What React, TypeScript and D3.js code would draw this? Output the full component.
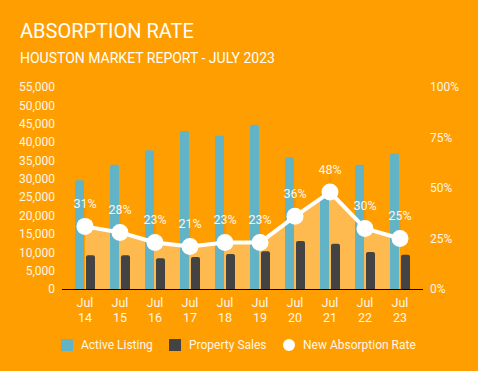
import React from "react";
import * as d3 from "d3";

const months = ["Jul 14", "Jul 15", "Jul 16", "Jul 17", "Jul 18", "Jul 19", "Jul 20", "Jul 21", "Jul 22", "Jul 23"];
const activeListing = [29600, 33800, 37800, 43000, 41700, 44700, 35900, 25600, 33800, 36900];
const propertySales = [9200, 9200, 8400, 8700, 9500, 10300, 13100, 12300, 10100, 9300];
const absorptionRate = [31, 28, 23, 21, 23, 23, 36, 48, 30, 25];
const leftTicks = [0, 5000, 10000, 15000, 20000, 25000, 30000, 35000, 40000, 45000, 50000, 55000];
const rightTicks = [0, 25, 50, 75, 100];

const W = 478, H = 371;
const BG = "#FF9E00";
const TEAL = "#63B3C7";
const DARK = "#434343";
const AREA = "#FFBA4F";
const TXT = "#FFF6E8";
const FONT = "Roboto, 'Noto Sans', sans-serif";

export default function App() {
  const x = d3.scaleBand<string>().domain(months).range([62, 423]).paddingInner(0).paddingOuter(0.157);
  const yL = d3.scaleLinear().domain([0, 55000]).range([289, 87]);
  const yR = d3.scaleLinear().domain([0, 100]).range([289, 87]);
  const cx = (m: string) => (x(m) as number) + x.bandwidth() / 2;
  const barW = 9;

  const barPath = (x0: number, y0: number, w: number, h: number, r: number) => {
    const rr = Math.min(r, h);
    return `M${x0},${y0 + h} V${y0 + rr} Q${x0},${y0} ${x0 + rr},${y0} H${x0 + w - rr} Q${x0 + w},${y0} ${x0 + w},${y0 + rr} V${y0 + h} Z`;
  };

  const pts = months.map((m, i) => [cx(m), yR(absorptionRate[i])] as [number, number]);
  const area = d3.area<[number, number]>().x(d => d[0]).y0(yR(0)).y1(d => d[1])(pts) as string;
  const line = d3.line<[number, number]>().x(d => d[0]).y(d => d[1])(pts) as string;

  return (
    <div style={{ position: "absolute", left: 0, top: 0 }}>
      <svg width={W} height={H} style={{ display: "block", fontFamily: FONT }}>
        <rect x={0} y={0} width={W} height={H} fill={BG} />
        <text x={20} y={37.5} fontSize={20} fill="#FFFFFF">ABSORPTION RATE</text>
        <text x={20} y={63} fontSize={14} fill="#FFFFFF">HOUSTON MARKET REPORT - JULY 2023</text>

        {leftTicks.map(t => (
          <text key={"l" + t} x={55} y={yL(t) + 4.3} fontSize={12} fill={TXT} textAnchor="end">
            {d3.format(",")(t)}
          </text>
        ))}
        {rightTicks.map(t => (
          <text key={"r" + t} x={430} y={yR(t) + 4.3} fontSize={12} fill={TXT} textAnchor="start">
            {t + "%"}
          </text>
        ))}

        <path d={area} fill={AREA} />

        {months.map((m, i) => {
          const c = cx(m);
          const ya = yL(activeListing[i]);
          const ys = yL(propertySales[i]);
          return (
            <g key={m}>
              <path d={barPath(c - 10, ya, barW, yL(0) - ya, 2)} fill={TEAL} />
              <path d={barPath(c + 1, ys, barW, yL(0) - ys, 2)} fill={DARK} />
            </g>
          );
        })}

        <line x1={62} x2={423} y1={289.5} y2={289.5} stroke="#000" strokeWidth={1} />

        {pts.map((p, i) => (
          <line key={"c" + i} x1={p[0]} x2={p[0]} y1={p[1] - 20} y2={p[1]} stroke="#EE8E00" strokeWidth={1} />
        ))}

        <path d={line} fill="none" stroke="#FFFFFF" strokeWidth={4} strokeLinejoin="round" />
        {pts.map((p, i) => (
          <circle key={"p" + i} cx={p[0]} cy={p[1]} r={8.5} fill="#FFFFFF" />
        ))}
        {pts.map((p, i) => (
          <text key={"t" + i} x={p[0]} y={p[1] - 18.5} fontSize={12.5} fill={TXT} textAnchor="middle">
            {absorptionRate[i] + "%"}
          </text>
        ))}

        {months.map(m => {
          const [a, b] = m.split(" ");
          return (
            <g key={"x" + m}>
              <text x={cx(m)} y={306.5} fontSize={12.5} fill={TXT} textAnchor="middle">{a}</text>
              <text x={cx(m)} y={321.5} fontSize={12.5} fill={TXT} textAnchor="middle">{b}</text>
            </g>
          );
        })}

        <g fontSize={12} fill={TXT}>
          <rect x={61} y={339} width={12} height={12} fill={TEAL} />
          <text x={81} y={349.3}>Active Listing</text>
          <rect x={169} y={339} width={12} height={12} fill={DARK} />
          <text x={189} y={349.3}>Property Sales</text>
          <circle cx={289} cy={345} r={6} fill="#FFFFFF" />
          <text x={303} y={349.3}>New Absorption Rate</text>
        </g>
      </svg>
    </div>
  );
}
